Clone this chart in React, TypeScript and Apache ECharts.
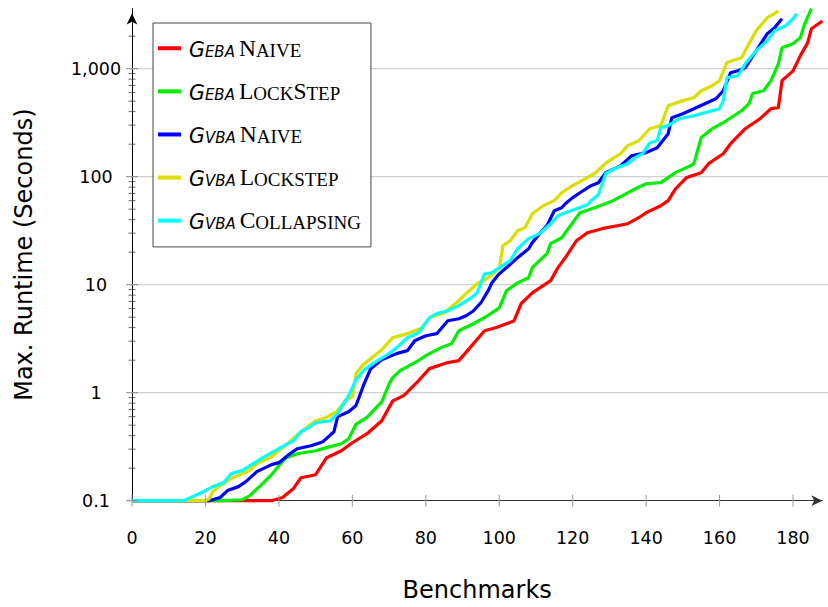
import React, { useEffect, useRef } from "react";
import * as echarts from "echarts";

// ---------- data ----------
const seriesNames = ["GEBA Naive", "GEBA LockStep", "GVBA Naive", "GVBA Lockstep", "GVBA Collapsing"];
const legendSubs = ["EBA", "EBA", "VBA", "VBA", "VBA"];
const legendWords = ["Naive", "LockStep", "Naive", "Lockstep", "Collapsing"];
const seriesColors = ["#ff0000", "#00ee00", "#0000ff", "#dddd00", "#00ffff"];

const xTicks = [0, 20, 40, 60, 80, 100, 120, 140, 160, 180];
const yTicks = [0.1, 1, 10, 100, 1000];
const yGridValues = [1, 10, 100, 1000];
const yMinorTicks = [
  0.2, 0.3, 0.4, 0.5, 0.6, 0.7, 0.8, 0.9,
  2, 3, 4, 5, 6, 7, 8, 9,
  20, 30, 40, 50, 60, 70, 80, 90,
  200, 300, 400, 500, 600, 700, 800, 900,
  2000,
];

const ebaNaive: [number, number][] = [
  [0, 0.1], [38, 0.1], [41, 0.107], [44, 0.13], [46, 0.163], [50, 0.174], [53, 0.25], [57, 0.29],
  [60, 0.344], [64, 0.417], [68, 0.55], [71, 0.84], [74, 0.94], [78, 1.29], [81, 1.67], [86, 1.9],
  [89, 1.98], [92, 2.6], [96, 3.75], [99, 4.0], [104, 4.6], [106, 6.7], [109, 8.4], [114, 10.9],
  [116, 14.4], [118, 17.8], [121, 25.5], [124, 30.3], [128, 33], [135, 36.7], [138, 41.7], [140, 46.4],
  [144, 53.8], [146, 60], [148, 77], [151, 98], [155, 109], [157, 132], [161, 163], [163, 202],
  [167, 278], [171, 344], [174, 426], [176, 435], [177, 774], [180, 955], [182, 1320], [184, 1740],
  [185, 2340], [188, 2760],
];

const ebaLockStep: [number, number][] = [
  [0, 0.1], [25, 0.1], [30, 0.102], [32, 0.111], [35, 0.138], [38, 0.174], [40, 0.211], [42, 0.25],
  [45, 0.272], [50, 0.29], [53, 0.31], [57, 0.337], [59, 0.375], [61, 0.51], [64, 0.59], [67, 0.76],
  [68, 0.82], [70, 1.2], [71, 1.38], [73, 1.6], [78, 1.98], [80, 2.2], [84, 2.6], [87, 2.84],
  [89, 3.75], [93, 4.35], [97, 5.2], [100, 6.1], [102, 8.8], [105, 10.4], [108, 11.6], [109, 14.4],
  [113, 19.4], [114, 24], [117, 27.2], [120, 37.5], [122, 46.4], [126, 51.6], [131, 60], [136, 74],
  [140, 86], [144, 88], [148, 109], [152, 126], [153, 132], [155, 230], [158, 278], [161, 316],
  [166, 408], [168, 474], [169, 589], [172, 625], [174, 774], [176, 1110], [177, 1560], [180, 1700],
  [182, 1940], [183, 2500], [185, 3600],
];

const vbaNaive: [number, number][] = [
  [0, 0.1], [21, 0.1], [24, 0.107], [26, 0.124], [29, 0.135], [31, 0.15], [34, 0.186], [38, 0.216],
  [40, 0.225], [43, 0.272], [45, 0.303], [49, 0.324], [52, 0.352], [55, 0.435], [56, 0.6], [59, 0.667],
  [61, 0.76], [63, 1.16], [65, 1.67], [68, 2.02], [72, 2.3], [75, 2.45], [77, 3.03], [80, 3.37],
  [83, 3.52], [86, 4.64], [89, 4.84], [91, 5.16], [93, 5.74], [95, 6.8], [97, 8.8], [98, 10.4],
  [100, 12.6], [102, 14.4], [105, 17.8], [108, 21.5], [109, 24.5], [111, 29.7], [113, 35.2], [115, 48.4],
  [117, 51.6], [118, 56.2], [120, 64], [122, 71], [125, 82.6], [127, 88], [129, 109], [133, 126],
  [136, 156], [140, 167], [143, 185], [146, 250], [147, 352], [150, 383], [153, 426], [156, 474],
  [159, 527], [161, 625], [163, 918], [165, 958], [167, 1020], [170, 1470], [173, 2110], [175, 2400],
  [177, 2900],
];

const vbaLockstep: [number, number][] = [
  [0, 0.1], [20, 0.1], [21, 0.104], [22, 0.121], [24, 0.138], [27, 0.16], [32, 0.19], [34, 0.22],
  [38, 0.255], [42, 0.33], [46, 0.435], [50, 0.55], [53, 0.59], [56, 0.68], [58, 0.84], [60, 0.92],
  [61, 1.5], [63, 1.82], [66, 2.2], [68, 2.5], [71, 3.23], [75, 3.52], [79, 4.0], [81, 4.95],
  [85, 5.5], [89, 7.1], [91, 8.3], [94, 10.2], [97, 11.6], [100, 14.1], [101, 23], [103, 25.5],
  [105, 31.6], [107, 33.7], [109, 45.4], [112, 53.9], [115, 60], [117, 71], [120, 82.6], [123, 94],
  [126, 107], [128, 124], [130, 141], [133, 163], [135, 194], [138, 215], [141, 278], [144, 297],
  [146, 454], [150, 506], [153, 538], [155, 625], [158, 696], [160, 774], [162, 1140], [166, 1260],
  [168, 1700], [170, 2250], [173, 2970], [175, 3230], [176, 3440],
];

const vbaCollapsing: [number, number][] = [
  [0, 0.1], [14, 0.1], [16, 0.107], [19, 0.119], [22, 0.135], [25, 0.147], [27, 0.178], [30, 0.19],
  [33, 0.22], [36, 0.255], [40, 0.303], [44, 0.36], [46, 0.435], [48, 0.474], [50, 0.527], [54, 0.55],
  [56, 0.64], [58, 0.83], [59, 0.94], [61, 1.32], [63, 1.6], [66, 1.9], [70, 2.3], [72, 2.6],
  [75, 3.23], [78, 3.59], [81, 4.95], [83, 5.4], [86, 5.74], [89, 6.4], [92, 7.42], [94, 8.43],
  [96, 12.6], [98, 12.9], [100, 14.4], [103, 16.7], [105, 21.5], [108, 26.7], [111, 29.7], [114, 36.7],
  [116, 43.5], [118, 46.4], [121, 50.6], [124, 55], [125, 60], [127, 68], [129, 107], [132, 121],
  [135, 132], [137, 150], [139, 163], [141, 206], [143, 215], [144, 284], [146, 297], [149, 344],
  [153, 367], [156, 392], [160, 426], [161, 506], [162, 826], [165, 861], [167, 1110], [170, 1470],
  [173, 1820], [175, 2250], [178, 2500], [180, 2900], [181, 3230],
];

const seriesData = [ebaNaive, ebaLockStep, vbaNaive, vbaLockstep, vbaCollapsing];

const X_MIN = 0;
const X_MAX = 188;
const Y_MIN = 0.1;
const Y_MAX = 3600;

const SANS = "DejaVu Sans";
const SERIF = "Liberation Serif";

function smallCaps(word: string): string {
  let out = "";
  let i = 0;
  while (i < word.length) {
    const isUpper = word[i] === word[i].toUpperCase();
    let j = i;
    while (j < word.length && (word[j] === word[j].toUpperCase()) === isUpper) j++;
    const run = word.slice(i, j).toUpperCase();
    out += isUpper ? `{big|${run}}` : `{small|${run}}`;
    i = j;
  }
  return out;
}

function fmtTick(v: number): string {
  const r = Math.round(v * 1000) / 1000;
  return r.toLocaleString("en-US");
}

export default function App() {
  const ref = useRef<HTMLDivElement>(null);

  useEffect(() => {
    document.body.style.margin = "0";
    if (!ref.current) return;
    const chart = echarts.init(ref.current, undefined, { renderer: "svg" });

    const lineSeries = seriesNames.map((name, i) => ({
      name,
      type: "line",
      data: seriesData[i],
      showSymbol: false,
      symbol: "none",
      color: seriesColors[i],
      lineStyle: { width: 3.2, color: seriesColors[i] },
      z: 2 + i * 0.01,
      clip: false,
    }));

    const gridSeries = {
      type: "custom",
      silent: true,
      z: 1,
      data: yGridValues.map((v) => [X_MIN, v]),
      renderItem: (_p: any, api: any) => {
        const v = api.value(1);
        const p0 = api.coord([X_MIN, v]);
        const p1 = api.coord([X_MAX, v]);
        return {
          type: "line",
          shape: { x1: p0[0], y1: p0[1], x2: p1[0] + 6, y2: p1[1] },
          style: { stroke: "#c4c4c4", lineWidth: 1 },
        };
      },
    };

    const yMajorSeries = {
      type: "custom",
      silent: true,
      z: 5,
      data: yTicks.map((v) => [X_MIN, v]),
      renderItem: (_p: any, api: any) => {
        const p = api.coord([X_MIN, api.value(1)]);
        return {
          type: "line",
          shape: { x1: p[0] - 6, y1: p[1], x2: p[0] + 6, y2: p[1] },
          style: { stroke: "#888", lineWidth: 1 },
        };
      },
    };

    const yMinorSeries = {
      type: "custom",
      silent: true,
      z: 5,
      data: yMinorTicks.map((v) => [X_MIN, v]),
      renderItem: (_p: any, api: any) => {
        const p = api.coord([X_MIN, api.value(1)]);
        return {
          type: "line",
          shape: { x1: p[0] - 3.5, y1: p[1], x2: p[0] + 3.5, y2: p[1] },
          style: { stroke: "#444", lineWidth: 0.8 },
        };
      },
    };

    const xTickSeries = {
      type: "custom",
      silent: true,
      z: 5,
      data: xTicks.map((v) => [v, Y_MIN]),
      renderItem: (_p: any, api: any) => {
        const p = api.coord([api.value(0), Y_MIN]);
        return {
          type: "line",
          shape: { x1: p[0], y1: p[1] - 6, x2: p[0], y2: p[1] + 6 },
          style: { stroke: "#999", lineWidth: 1 },
        };
      },
    };

    const rich = {
      g: { fontFamily: SANS, fontStyle: "italic", fontSize: 20.5, lineHeight: 20.8, verticalAlign: "bottom", color: "#000", padding: [0, 0, 0, 3] },
      sub: { fontFamily: SANS, fontStyle: "italic", fontSize: 15, lineHeight: 11, verticalAlign: "bottom", color: "#000" },
      sp: { fontFamily: SERIF, fontSize: 16, lineHeight: 10, verticalAlign: "bottom", color: "#000" },
      big: { fontFamily: SERIF, fontSize: 23.5, lineHeight: 22.5, verticalAlign: "bottom", color: "#000" },
      small: { fontFamily: SERIF, fontSize: 19, lineHeight: 19.4, verticalAlign: "bottom", color: "#000" },
    };

    const option: any = {
      animation: false,
      backgroundColor: "#fff",
      grid: {
        left: 132,
        right: 828 - 822.4,
        top: 8.6,
        bottom: 607 - 500.7,
        containLabel: false,
        outerBoundsMode: "none",
      },
      legend: {
        data: seriesNames,
        orient: "vertical",
        left: 153,
        top: 23,
        padding: [12.5, 10, 15, 5],
        itemGap: 19.1,
        itemWidth: 23,
        itemHeight: 4,
        icon: "rect",
        selectedMode: false,
        backgroundColor: "#fff",
        borderColor: "#444",
        borderWidth: 1,
        borderRadius: 0,
        formatter: (name: string) => {
          const i = seriesNames.indexOf(name);
          return `{g|G}{sub|${legendSubs[i]}}{sp| }` + smallCaps(legendWords[i]);
        },
        textStyle: { color: "#000", rich },
      },
      xAxis: {
        type: "value",
        min: X_MIN,
        max: X_MAX,
        name: "Benchmarks",
        nameLocation: "middle",
        nameGap: 77,
        nameTextStyle: { fontFamily: SANS, fontSize: 24, lineHeight: 24, color: "#000" },
        axisLine: {
          show: true,
          onZero: false,
          symbol: ["none", "arrow"],
          symbolSize: [8, 11],
          lineStyle: { color: "#333", width: 1.2 },
        },
        axisTick: { show: false },
        axisLabel: {
          customValues: xTicks,
          fontFamily: SANS,
          fontSize: 17.5,
          color: "#000",
          margin: 28,
          formatter: (v: number) => fmtTick(v),
        },
        splitLine: { show: false },
      },
      yAxis: {
        type: "log",
        logBase: 10,
        min: Y_MIN,
        max: Y_MAX,
        name: "Max. Runtime (Seconds)",
        nameLocation: "middle",
        nameRotate: 90,
        nameGap: 96,
        nameTextStyle: { fontFamily: SANS, fontSize: 24, color: "#000" },
        axisLine: {
          show: true,
          onZero: false,
          symbol: ["none", "arrow"],
          symbolSize: [8, 11],
          symbolOffset: [0, -5],
          lineStyle: { color: "#000", width: 1 },
        },
        axisTick: { show: false },
        minorTick: { show: false },
        axisLabel: {
          customValues: yTicks,
          fontFamily: SANS,
          fontSize: 17.5,
          color: "#000",
          align: "center",
          margin: 36,
          formatter: (v: number) => fmtTick(v),
        },
        splitLine: { show: false },
      },
      series: [gridSeries, ...lineSeries, yMajorSeries, yMinorSeries, xTickSeries],
    };

    chart.setOption(option);
    return () => chart.dispose();
  }, []);

  return (
    <div
      ref={ref}
      style={{ position: "absolute", left: 0, top: 0, width: 828, height: 607, background: "#fff" }}
    />
  );
}
